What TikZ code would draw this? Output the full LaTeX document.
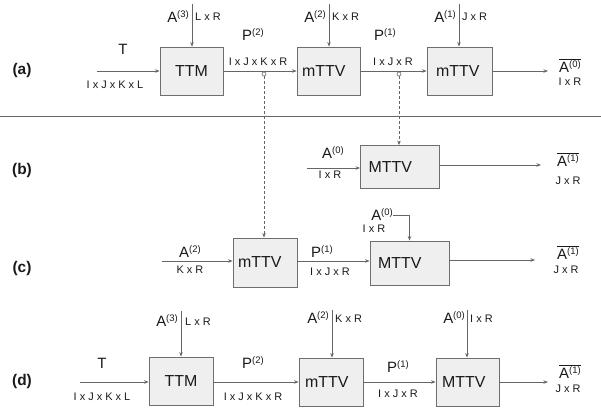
\documentclass[tikz,border=0pt]{standalone}
\usepackage{fontspec}
\setmainfont{Liberation Sans}
\usetikzlibrary{arrows.meta}
\definecolor{linec}{HTML}{666666}
\definecolor{boxc}{HTML}{6E6E6E}
\definecolor{boxfill}{HTML}{EFEFEF}
\definecolor{txtc}{HTML}{1A1A1A}
\newcommand\bigf{\fontsize{15}{15}\selectfont}
\newcommand\boxf{\fontsize{16}{16}\selectfont}
\newcommand\dimf{\fontsize{11}{11}\selectfont}
\newcommand\Sp[1]{\raisebox{5bp}{\fontsize{9.5}{10}\selectfont(#1)}}
\newcommand\Bar[1]{$\overline{\hbox{\bigf A\Sp{#1}}}$}
\tikzset{
  mbox/.style={draw=boxc, fill=boxfill, line width=0.8bp, font=\boxf, text=txtc,
    inner ysep=0pt, align=left},
  arr/.style={draw=linec, line width=0.7bp, -{Stealth[length=4.5bp,width=3.5bp]}},
  dasharr/.style={arr, dashed, dash pattern=on 3bp off 2bp},
  big/.style={font=\bigf, text=txtc, inner sep=0pt},
  dim/.style={font=\dimf, text=txtc, inner sep=0pt},
  rowlbl/.style={font=\fontsize{15.5}{16}\selectfont\bfseries, text=txtc, inner sep=0pt},
  smallc/.style={circle, draw=linec, fill=white, line width=0.6bp, minimum size=4bp, inner sep=0pt}
}
\begin{document}
\begin{tikzpicture}[x=1bp,y=-1bp]
\useasboundingbox (0,0) rectangle (601,409);
% separator
\coordinate (sepl) at (0,116);
\coordinate (sepr) at (601,116);
\draw[draw=linec, line width=0.9bp] (sepl) -- (sepr);

% ---------- row (a)
\node[rowlbl] (la) at (22,71) {(a)};
\node[mbox, align=center, text width=51bp, inner xsep=6bp, minimum height=48bp] (ta) at (191.5,71) {TTM};
\node[mbox, text width=53bp, inner xsep=5bp, minimum height=48bp] (ma1) at (328.5,71) {mTTV};
\node[mbox, text width=47bp, inner xsep=9bp, minimum height=48bp] (ma2) at (459.5,71) {mTTV};
\coordinate (tain) at (97,71);
\draw[arr] (tain) -- (ta.west);
\node[big] (tlab) at (123,49) {T};
\node[dim] (tdim) at (115,85) {I x J x K x L};
\coordinate (a3a) at (192,4);
\draw[arr] (a3a) -- (a3a |- ta.north);
\node[big, anchor=base east] (a3al) at (189,22) {A\Sp{3}};
\node[dim, anchor=base west] (a3ad) at (195,20) {L x R};
\draw[arr] (ta.east) -- (ma1.west);
\node[big] (p2a) at (253,35) {P\Sp{2}};
\node[dim] (p2ad) at (258,62) {I x J x K x R};
\coordinate (a2a) at (329,4);
\draw[arr] (a2a) -- (a2a |- ma1.north);
\node[big, anchor=base east] (a2al) at (326,22) {A\Sp{2}};
\node[dim, anchor=base west] (a2ad) at (332,20) {K x R};
\draw[arr] (ma1.east) -- (ma2.west);
\node[big] (p1a) at (385,35) {P\Sp{1}};
\node[dim] (p1ad) at (393,62) {I x J x R};
\coordinate (a1a) at (459,4);
\draw[arr] (a1a) -- (a1a |- ma2.north);
\node[big, anchor=base east] (a1al) at (456,22) {A\Sp{1}};
\node[dim, anchor=base west] (a1ad) at (462,20) {J x R};
\coordinate (outa) at (548,71);
\draw[arr] (ma2.east) -- (outa);
\node[big] (a0abar) at (570,66) {\Bar{0}};
\node[dim] (a0ad) at (570,82) {I x R};
\node[smallc] (c1) at (264,74) {};
\node[smallc] (c2) at (399,74) {};

% ---------- row (b)
\node[rowlbl] (lb) at (22,170) {(b)};
\node[mbox, text width=63bp, inner xsep=8bp, minimum height=43bp] (Mb) at (400,167) {MTTV};
\coordinate (bin) at (307,168);
\draw[arr] (bin) -- (bin -| Mb.west);
\node[big] (a0bl) at (333,153) {A\Sp{0}};
\node[dim] (a0bd) at (330,175) {I x R};
\coordinate (outb) at (541,165);
\draw[arr] (Mb.east |- outb) -- (outb);
\node[big] (a1bbar) at (568,160) {\Bar{1}};
\node[dim] (a1bd) at (568,181) {J x R};
\draw[dasharr] (c2.south) -- (c2 |- Mb.north);

% ---------- row (c)
\node[rowlbl] (lc) at (22,268) {(c)};
\node[mbox, text width=54bp, inner xsep=5bp, minimum height=49bp] (mc) at (265,262.5) {mTTV};
\node[mbox, text width=63bp, inner xsep=8bp, minimum height=44bp] (Mc) at (409.5,263) {MTTV};
\draw[dasharr] (c1.south) -- (c1 |- mc.north);
\coordinate (cin) at (162,261);
\draw[arr] (cin) -- (cin -| mc.west);
\node[big] (a2cl) at (190,252) {A\Sp{2}};
\node[dim] (a2cd) at (190,270) {K x R};
\coordinate (pc) at (297,261);
\draw[arr] (pc -| mc.east) -- (pc -| Mc.west);
\node[big] (p1cl) at (322,252) {P\Sp{1}};
\node[dim] (p1cd) at (330,272) {I x J x R};
\node[big, anchor=base east] (a0cl) at (393,220) {A\Sp{0}};
\node[dim] (a0cd) at (374,229) {I x R};
\coordinate (a0cs) at (393,215);
\draw[arr] (a0cs) -| (Mc.north);
\coordinate (outc) at (535,260);
\draw[arr] (outc -| Mc.east) -- (outc);
\node[big] (a1cbar) at (568,253) {\Bar{1}};
\node[dim] (a1cd) at (566,270) {J x R};

% ---------- row (d)
\node[rowlbl] (ld) at (22,381) {(d)};
\node[mbox, align=center, text width=52bp, inner xsep=6bp, minimum height=48bp] (td) at (181,381) {TTM};
\node[mbox, text width=52bp, inner xsep=6bp, minimum height=48bp] (md) at (331,382) {mTTV};
\node[mbox, text width=51bp, inner xsep=6bp, minimum height=48bp] (Md) at (467.5,382) {MTTV};
\coordinate (din) at (80,382);
\draw[arr] (din) -- (din -| td.west);
\node[big] (tdl) at (102,363) {T};
\node[dim] (tdd) at (102,397) {I x J x K x L};
\coordinate (a3d) at (181,311);
\draw[arr] (a3d) -- (a3d |- td.north);
\node[big, anchor=base east] (a3dl) at (178,326) {A\Sp{3}};
\node[dim, anchor=base west] (a3dd) at (185,325) {L x R};
\coordinate (pd2) at (213,382);
\draw[arr] (pd2 -| td.east) -- (pd2 -| md.west);
\node[big] (p2dl) at (253,363) {P\Sp{2}};
\node[dim] (p2dd) at (253,397) {I x J x K x R};
\coordinate (a2d) at (332,310);
\draw[arr] (a2d) -- (a2d |- md.north);
\node[big, anchor=base east] (a2dl) at (329,323) {A\Sp{2}};
\node[dim, anchor=base west] (a2dd) at (335,322) {K x R};
\draw[arr] (md.east) -- (Md.west);
\node[big] (p1dl) at (398,367) {P\Sp{1}};
\node[dim] (p1dd) at (398,394) {I x J x R};
\coordinate (a0d) at (467,310);
\draw[arr] (a0d) -- (a0d |- Md.north);
\node[big, anchor=base east] (a0dl) at (465,323) {A\Sp{0}};
\node[dim, anchor=base west] (a0dd) at (470,322) {I x R};
\coordinate (outd) at (548,382);
\draw[arr] (Md.east) -- (outd);
\node[big] (a1dbar) at (570,372) {\Bar{1}};
\node[dim] (a1dd) at (568,389) {J x R};
\end{tikzpicture}
\end{document}
